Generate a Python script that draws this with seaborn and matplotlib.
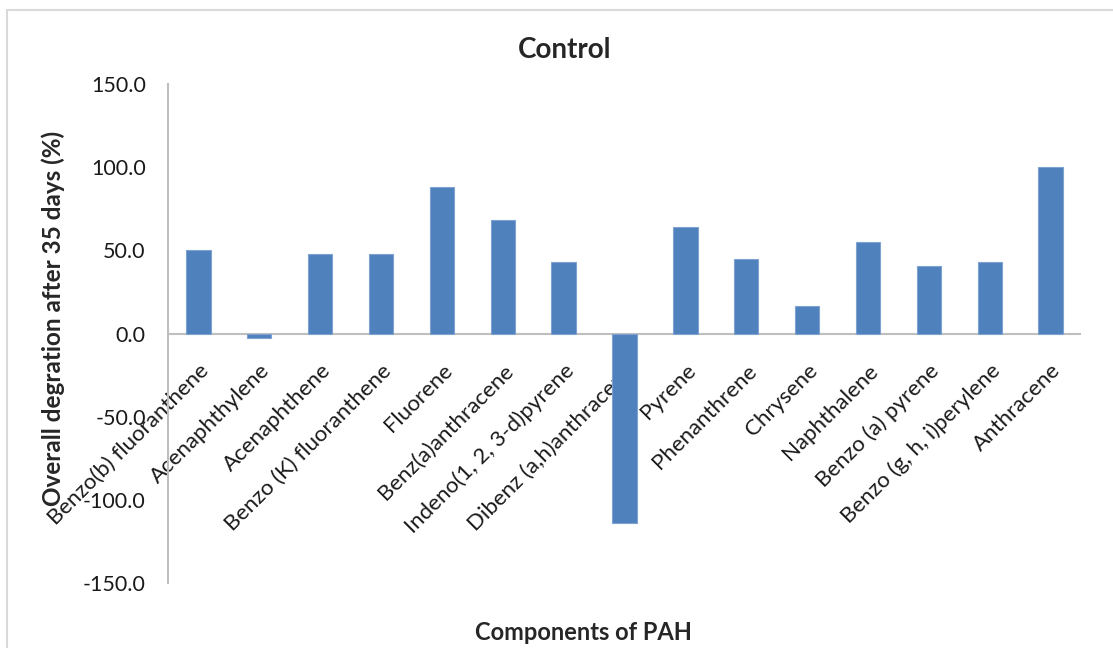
import numpy as np
import pandas as pd
import seaborn as sns
import matplotlib.pyplot as plt
from matplotlib.patches import Rectangle
from matplotlib.transforms import ScaledTranslation

componentes = ['Benzo(b) fluoranthene', 'Acenaphthylene', 'Acenaphthene',
               'Benzo (K) fluoranthene', 'Fluorene', 'Benz(a)anthracene',
               'Indeno(1, 2, 3-d)pyrene', 'Dibenz (a,h)anthracene', 'Pyrene',
               'Phenanthrene', 'Chrysene', 'Naphthalene', 'Benzo (a) pyrene',
               'Benzo (g, h, i)perylene', 'Anthracene']
degradacao = [50.3, -3.0, 47.5, 47.8, 88.3, 68.0, 43.2, -113.8, 64.0,
              44.5, 16.5, 55.2, 40.8, 42.8, 100.2]
y_ticks = [-150, -100, -50, 0, 50, 100, 150]

df = pd.DataFrame({'componente': componentes, 'degradacao': degradacao})

sns.set_style('white')
plt.rcParams['font.family'] = ['Lato', 'DejaVu Sans']

fig = plt.figure(figsize=(11.13, 6.48), dpi=100)
ax = fig.add_axes([168 / 1113, 1 - 583 / 648, (1081 - 168) / 1113, (583 - 84) / 648])

sns.barplot(data=df, x='componente', y='degradacao', color='#4F81BD',
            saturation=1, width=0.4, edgecolor='#7FA3D1', linewidth=0.8, ax=ax)

ax.set_ylim(-150, 150)
ax.set_xlim(-0.5, len(componentes) - 0.5)
ax.set_yticks(y_ticks)
ax.set_yticklabels(['{:.1f}'.format(v) for v in y_ticks], fontsize=15.5, color='#1a1a1a')
ax.axhline(0, color='#BFBFBF', lw=1.5, zorder=0)

for s in ['top', 'right', 'bottom']:
    ax.spines[s].set_visible(False)
ax.spines['left'].set_color('#BFBFBF')
ax.spines['left'].set_linewidth(1.5)
ax.tick_params(axis='both', length=0)
ax.tick_params(axis='y', pad=16)

ax.set_xticks(range(len(componentes)))
ax.set_xticklabels(componentes, rotation=45, ha='right', va='top',
                   rotation_mode='anchor', fontsize=16, color='#1a1a1a')
# rotulos comecam logo abaixo do zero (estilo excel)
offset = ScaledTranslation(0 / 100, 0, fig.dpi_scale_trans)
for lbl in ax.get_xticklabels():
    lbl.set_transform(ax.get_xaxis_transform() + offset)
    lbl.set_position((lbl.get_position()[0], 0.446))
ax.set_xlabel('')
ax.set_ylabel('')

fig.text(565 / 1113, 1 - 50 / 648, 'Control', ha='center', va='center',
         fontsize=20, fontweight='bold')
fig.text(583 / 1113, 1 - 632 / 648, 'Components of PAH', ha='center', va='center',
         fontsize=17, fontweight='bold')
fig.text(53 / 1113, 1 - 318 / 648, 'Overall degration after 35 days (%)',
         ha='center', va='center', rotation=90, fontsize=17.5, fontweight='bold')

fig.patches.append(Rectangle((7 / 1113, -0.1), 1.2, 1.1 - 10 / 648,
                             transform=fig.transFigure, fill=False,
                             edgecolor='#D9D9D9', lw=1.5))

plt.savefig('out.png', dpi=100)
